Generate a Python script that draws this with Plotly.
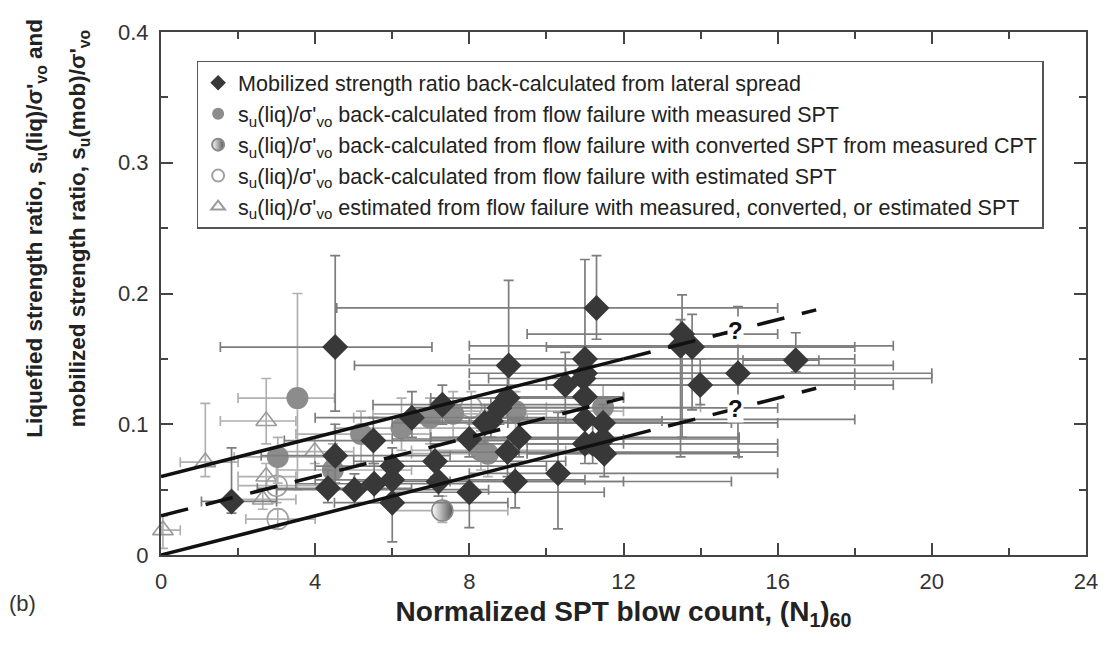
import plotly.graph_objects as go

# ---------------- data ----------------
# Mobilized strength ratio back-calculated from lateral spread (diamonds)
ls_x   = [1.83, 4.52, 4.52, 4.33, 5.02, 5.51, 5.53, 6.0, 6.0, 6.0, 6.51, 7.3, 7.11, 7.2, 8.0, 8.0,
          8.4, 8.56, 8.78, 8.99, 9.29, 8.99, 9.19, 10.49, 10.3, 10.96, 11.0, 11.0, 11.0, 11.47, 11.47,
          11.5, 11.2, 9.02, 11.3, 11.0, 11.0, 13.52, 13.48, 13.78, 13.99, 14.97, 16.47]
ls_y   = [0.041, 0.159, 0.076, 0.051, 0.050, 0.0875, 0.0545, 0.068, 0.0575, 0.040, 0.105, 0.115, 0.0717,
          0.0562, 0.0887, 0.048, 0.101, 0.1025, 0.1125, 0.12, 0.09, 0.0787, 0.0562, 0.13, 0.0625, 0.135,
          0.121, 0.1037, 0.085, 0.101, 0.0887, 0.0775, 0.085, 0.145, 0.189, 0.15, 0.139, 0.169, 0.16,
          0.159, 0.13, 0.139, 0.149]
ls_xlo = [1.05, 1.54, 2.6, 2.5, 3.0, 3.2, 3.5, 4.0, 4.0, 4.5, 4.0, 5.5, 5.0, 5.0, 6.0, 6.0,
          6.0, 6.5, 6.5, 7.0, 7.0, 7.0, 7.5, 8.0, 8.0, 8.5, 9.0, 9.0, 8.0, 9.0, 9.5,
          9.5, 9.5, 5.02, 4.56, 8.0, 8.0, 9.5, 8.0, 10.0, 10.0, 10.5, 15.1]
ls_xhi = [3.0, 7.03, 7.5, 6.5, 8.5, 9.0, 8.0, 10.0, 11.0, 9.0, 10.5, 11.0, 10.5, 12.0, 12.0, 11.5,
          14.8, 13.0, 16.0, 12.0, 15.0, 16.0, 14.8, 18.0, 16.0, 20.0, 12.0, 18.0, 16.0, 16.0, 15.0,
          15.0, 12.0, 19.0, 16.0, 18.0, 20.0, 16.0, 19.0, 18.0, 19.0, 18.0, 17.07]
ls_ylo = [0.032, 0.11, 0.055, 0.04, 0.038, 0.07, 0.04, 0.055, 0.045, 0.01, 0.09, 0.10, 0.06, 0.045,
          0.075, 0.021, 0.085, 0.09, 0.10, 0.105, 0.075, 0.06, 0.036, 0.11, 0.02, 0.115, 0.105, 0.09,
          0.07, 0.085, 0.075, 0.06, 0.07, 0.12, 0.165, 0.10, 0.12, 0.09, 0.075, 0.111, 0.115, 0.075, 0.14]
ls_yhi = [0.082, 0.229, 0.10, 0.065, 0.062, 0.105, 0.07, 0.082, 0.07, 0.06, 0.125, 0.13, 0.085, 0.07,
          0.105, 0.06, 0.115, 0.12, 0.125, 0.14, 0.105, 0.09, 0.07, 0.155, 0.109, 0.15, 0.135, 0.12,
          0.10, 0.115, 0.10, 0.09, 0.10, 0.21, 0.229, 0.226, 0.16, 0.199, 0.18, 0.184, 0.15, 0.19, 0.17]

# su(liq)/s'vo with measured SPT (gray circles)
ms_x   = [3.54, 3.03, 4.46, 5.19, 6.24, 6.98, 7.58, 8.3, 8.48, 9.2, 11.47]
ms_y   = [0.12, 0.075, 0.065, 0.0925, 0.097, 0.105, 0.108, 0.08, 0.0775, 0.11, 0.113]
ms_xlo = [2.0, 1.9, 3.0, 3.5, 4.5, 5.0, 5.5, 6.5, 6.5, 7.0, 9.0]
ms_xhi = [4.5, 4.3, 6.5, 7.0, 8.5, 9.5, 10.0, 10.5, 11.0, 12.0, 14.0]
ms_ylo = [0.05, 0.055, 0.05, 0.07, 0.08, 0.085, 0.09, 0.065, 0.06, 0.09, 0.095]
ms_yhi = [0.20, 0.09, 0.085, 0.11, 0.12, 0.12, 0.125, 0.095, 0.09, 0.125, 0.13]

# converted SPT from measured CPT (half-filled circles)
cv_x   = [7.3]
cv_y   = [0.034]
cv_xlo = [6.0]
cv_xhi = [9.0]
cv_ylo = [0.025]
cv_yhi = [0.045]

# estimated SPT (open circles)
es_x   = [3.03, 3.0, 8.05]
es_y   = [0.0275, 0.053, 0.113]
es_xlo = [2.2, 2.0, 6.5]
es_xhi = [4.0, 4.5, 10.0]
es_ylo = [0.02, 0.04, 0.10]
es_yhi = [0.035, 0.07, 0.125]

# estimated su(liq)/s'vo (open triangles)
tr_x   = [0.05, 1.15, 2.73, 2.73, 2.64, 3.99]
tr_y   = [0.019, 0.071, 0.1025, 0.06, 0.0425, 0.079]
tr_xlo = [0.0, 0.5, 1.54, 2.0, 1.8, 3.0]
tr_xhi = [0.5, 2.0, 3.5, 3.5, 3.5, 5.0]
tr_ylo = [0.005, 0.06, 0.085, 0.05, 0.035, 0.07]
tr_yhi = [0.03, 0.116, 0.135, 0.07, 0.05, 0.09]

# bounding / trend lines
up_solid_x, up_solid_y = [0, 12], [0.06, 0.15]
up_dash_x,  up_dash_y  = [12, 17], [0.15, 0.1875]
mid_dash_x, mid_dash_y = [0, 12], [0.03, 0.12]
lo_solid_x, lo_solid_y = [0, 12], [0.0, 0.09]
lo_dash_x,  lo_dash_y  = [12, 17], [0.09, 0.1275]
q_x = [14.9, 14.9]
q_y = [0.172, 0.112]

x_ticks = [0, 4, 8, 12, 16, 20, 24]
y_ticks = [0, 0.1, 0.2, 0.3, 0.4]

# ---------------- figure ----------------
FONT = "Liberation Sans, Arial, sans-serif"


def errs(v, lo, hi):
    return [h - a for a, h in zip(v, hi)], [a - l for a, l in zip(v, lo)]


def err_bar(v, lo, hi, color):
    plus, minus = errs(v, lo, hi)
    return dict(type="data", symmetric=False, array=plus, arrayminus=minus,
                color=color, thickness=1.7, width=5)


fig = go.Figure()

LIGHT = "#b0b0b0"
DARK = "#7d7d7d"

fig.add_trace(go.Scatter(
    x=tr_x, y=tr_y, mode="markers", cliponaxis=False, legendgroup="e", legendrank=5,
    name="s<sub>u</sub>(liq)/σ'<sub>vo</sub> estimated from flow failure with measured, converted, or estimated SPT",
    marker=dict(symbol="triangle-up-open", size=18, color="#9a9a9a", line=dict(width=1.6, color="#9a9a9a")),
    error_x=err_bar(tr_x, tr_xlo, tr_xhi, LIGHT), error_y=err_bar(tr_y, tr_ylo, tr_yhi, LIGHT)))

fig.add_trace(go.Scatter(
    x=es_x, y=es_y, mode="markers", legendgroup="d", legendrank=4,
    name="s<sub>u</sub>(liq)/σ'<sub>vo</sub> back-calculated from flow failure with estimated SPT",
    marker=dict(symbol="circle-open", size=21, color="#a0a0a0", line=dict(width=1.6, color="#a0a0a0")),
    error_x=err_bar(es_x, es_xlo, es_xhi, LIGHT), error_y=err_bar(es_y, es_ylo, es_yhi, LIGHT)))

fig.add_trace(go.Scatter(
    x=cv_x, y=cv_y, mode="markers", legendgroup="c", legendrank=3,
    name="s<sub>u</sub>(liq)/σ'<sub>vo</sub> back-calculated from flow failure with converted SPT from measured CPT",
    marker=dict(symbol="circle", size=21, color="white", line=dict(width=1.6, color="#8a8a8a"),
                gradient=dict(type="horizontal", color="#555555")),
    error_x=err_bar(cv_x, cv_xlo, cv_xhi, LIGHT), error_y=err_bar(cv_y, cv_ylo, cv_yhi, LIGHT)))

fig.add_trace(go.Scatter(
    x=ms_x, y=ms_y, mode="markers", legendgroup="b", legendrank=2,
    name="s<sub>u</sub>(liq)/σ'<sub>vo</sub> back-calculated from flow failure with measured SPT",
    marker=dict(symbol="circle", size=22, color="#8c8c8c", line=dict(width=0)),
    error_x=err_bar(ms_x, ms_xlo, ms_xhi, LIGHT), error_y=err_bar(ms_y, ms_ylo, ms_yhi, LIGHT)))

fig.add_trace(go.Scatter(
    x=ls_x, y=ls_y, mode="markers", legendgroup="a", legendrank=1,
    name="Mobilized strength ratio back-calculated from lateral spread",
    marker=dict(symbol="diamond", size=20, color="#383838", line=dict(width=0)),
    error_x=err_bar(ls_x, ls_xlo, ls_xhi, DARK), error_y=err_bar(ls_y, ls_ylo, ls_yhi, DARK)))

LINE_COL = "#111111"
for lx, ly, dash in [(up_solid_x, up_solid_y, "solid"), (up_dash_x, up_dash_y, "28px,18px"),
                     (mid_dash_x, mid_dash_y, "28px,18px"),
                     (lo_solid_x, lo_solid_y, "solid"), (lo_dash_x, lo_dash_y, "28px,18px")]:
    fig.add_trace(go.Scatter(x=lx, y=ly, mode="lines", showlegend=False, hoverinfo="skip",
                             line=dict(color=LINE_COL, width=3.5, dash=dash)))

for qx, qy in zip(q_x, q_y):
    fig.add_annotation(x=qx, y=qy, text="<b>?</b>", showarrow=False, bgcolor="white", borderpad=0,
                       font=dict(family=FONT, size=24, color="#111"))

# y-axis title (two lines), panel label
fig.add_annotation(xref="paper", yref="paper", x=-0.135, y=0.624, textangle=-90, showarrow=False,
                   text="<b>Liquefied strength ratio, s<sub>u</sub>(liq)/σ'<sub>vo</sub> and</b>",
                   font=dict(family=FONT, size=22.5, color="#222"), xanchor="center", yanchor="middle")
fig.add_annotation(xref="paper", yref="paper", x=-0.089, y=0.624, textangle=-90, showarrow=False,
                   text="<b>mobilized strength ratio, s<sub>u</sub>(mob)/σ'<sub>vo</sub></b>",
                   font=dict(family=FONT, size=22.5, color="#222"), xanchor="center", yanchor="middle")
fig.add_annotation(xref="paper", yref="paper", x=-0.166, y=-0.092, showarrow=False, text="(b)",
                   font=dict(family=FONT, size=22, color="#333"), xanchor="left", yanchor="middle")

axis_common = dict(showline=True, linecolor="#444", linewidth=2, mirror="allticks",
                   ticks="inside", ticklen=12, tickwidth=2, tickcolor="#444",
                   showgrid=False, zeroline=False,
                   tickfont=dict(family=FONT, size=22, color="#333"))

fig.update_xaxes(range=[0, 24], tickvals=x_ticks, ticklabelstandoff=6,
                 minor=dict(dtick=2, ticks="inside", ticklen=7, tickwidth=2, tickcolor="#444"),
                 title=dict(text="<b>Normalized SPT blow count, (N<sub>1</sub>)<sub>60</sub></b>",
                            font=dict(family=FONT, size=28, color="#222"), standoff=8),
                 **axis_common)
fig.update_yaxes(range=[0, 0.4], tickvals=y_ticks, ticklabelstandoff=6,
                 minor=dict(dtick=0.05, ticks="inside", ticklen=7, tickwidth=2, tickcolor="#444"),
                 **axis_common)

# the page body has an 8px margin, so the figure is sized to end at the window edge
fig.update_layout(
    width=1102, height=638,
    margin=dict(l=153, r=15, t=15, b=91),
    paper_bgcolor="white", plot_bgcolor="white",
    showlegend=True,
    legend=dict(x=0.0385, y=0.945, xanchor="left", yanchor="top",
                bgcolor="white", bordercolor="#555", borderwidth=1.5,
                font=dict(family=FONT, size=21.5, color="#222"),
                itemsizing="constant", tracegroupgap=0, traceorder="normal"),
    font=dict(family=FONT),
)

fig.write_html("out.html")
